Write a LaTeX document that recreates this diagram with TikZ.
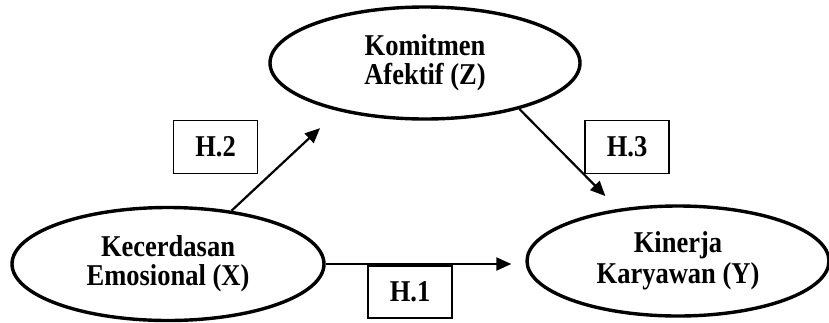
\documentclass[tikz,border=0pt]{standalone}
\usepackage{fontspec}
\usepackage{graphicx}
\setmainfont{Liberation Serif}
\usetikzlibrary{shapes.geometric,arrows.meta}
\newcommand{\tallt}[1]{\scalebox{1}[1.14]{#1}}
\tikzset{
  varel/.style={ellipse, draw, line width=3.4pt, inner sep=0pt, align=center,
    font=\fontsize{26.5}{26}\selectfont\bfseries},
  hbox/.style={rectangle, draw, line width=1.4pt, inner sep=0pt,
    minimum width=84pt, minimum height=53pt, font=\fontsize{26.5}{24}\selectfont\bfseries},
  conn/.style={line width=2.2pt, -{Triangle[length=15pt,width=13pt]}}
}
\begin{document}
\begin{tikzpicture}[x=1pt,y=-1pt]
\useasboundingbox (0,0) rectangle (829,322);
\node[varel, minimum width=312pt, minimum height=113pt] (x) at (168,264) {\tallt{Kecerdasan}\\[3pt]\tallt{Emosional (X)}};
\node[varel, minimum width=310pt, minimum height=112pt] (z) at (425,63) {\tallt{Komitmen}\\[3pt]\tallt{Afektif (Z)}};
\node[varel, minimum width=302pt, minimum height=110pt] (y) at (678,261) {\tallt{Kinerja}\\[3pt]\tallt{Karyawan (Y)}};
\node[hbox] (h2) at (215.5,147) {\tallt{H.2}};
\node[hbox] (h3) at (627,147) {\tallt{H.3}};
\node[hbox, minimum height=52pt] (h1) at (410,292) {\tallt{H.1}};
\draw[conn, shorten >=25pt] (x.40) -- (z.209);
\draw[conn, shorten >=18pt] (z.334) -- (y.139);
\draw[conn, shorten >=14pt] (x.east) -- (x.east -| y.west);
\end{tikzpicture}
\end{document}
